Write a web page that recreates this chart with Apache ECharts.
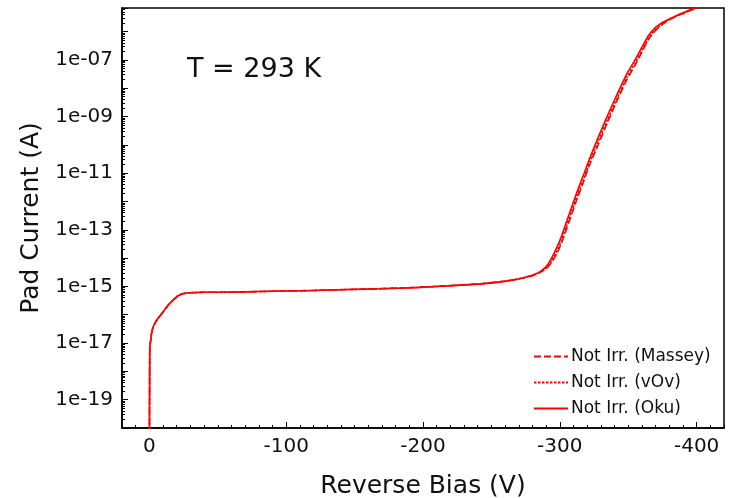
<!DOCTYPE html>
<html>
<head>
<meta charset="utf-8">
<script src="https://cdn.jsdelivr.net/npm/echarts@6/dist/echarts.min.js"></script>
<style>
  html, body { margin: 0; padding: 0; background: #fff; }
  #chart { width: 731px; height: 498px; }
</style>
</head>
<body>
<div id="chart"></div>
<script>
  // reverse bias voltage (V)
  var voltage = [0, -0.3, -1, -2, -4, -6, -10, -14, -17, -21, -25, -30, -40, -60, -80, -100, -120,
    -146, -170, -195, -220, -243, -260, -270, -280, -285, -290, -294, -298, -301, -305, -309,
    -313, -317, -322, -328, -335, -342, -349, -355, -360, -365, -370, -375, -380, -386, -392, -398, -402];

  // pad current (A)
  var okuCurrent = [1e-22, 6.3e-18, 1.26e-17, 2.8e-17, 5.0e-17, 7.1e-17, 1.26e-16, 2.24e-16, 3.16e-16, 4.7e-16,
    5.6e-16, 6.0e-16, 6.2e-16, 6.3e-16, 6.6e-16, 6.9e-16, 7.2e-16, 7.8e-16, 8.3e-16, 9.1e-16, 1.05e-15,
    1.23e-15, 1.51e-15, 1.82e-15, 2.5e-15, 3.2e-15, 5.0e-15, 1.0e-14, 2.5e-14, 5.6e-14, 2.0e-13, 7.1e-13,
    2.5e-12, 7.9e-12, 3.5e-11, 1.8e-10, 1.12e-9, 6.3e-9, 3.2e-8, 1.0e-7, 2.8e-7, 7.4e-7, 1.4e-6, 2.1e-6,
    2.8e-6, 3.8e-6, 5.0e-6, 6.6e-6, 7.6e-6];
  var vovCurrent = [1e-22, 6.3e-18, 1.26e-17, 2.8e-17, 5.0e-17, 7.1e-17, 1.26e-16, 2.24e-16, 3.16e-16, 4.7e-16,
    5.6e-16, 6.0e-16, 6.2e-16, 6.3e-16, 6.6e-16, 6.9e-16, 7.2e-16, 7.8e-16, 8.3e-16, 9.2e-16, 1.06e-15,
    1.25e-15, 1.55e-15, 1.85e-15, 2.5e-15, 3.1e-15, 4.5e-15, 8.0e-15, 1.8e-14, 4.0e-14, 1.4e-13, 5.0e-13,
    1.8e-12, 5.6e-12, 2.6e-11, 1.3e-10, 8.0e-10, 4.6e-9, 2.4e-8, 7.6e-8, 2.2e-7, 6.0e-7, 1.2e-6, 1.9e-6,
    2.7e-6, 3.7e-6, 4.8e-6, 6.4e-6, 7.4e-6];
  var masseyCurrent = [1e-22, 6.3e-18, 1.26e-17, 2.8e-17, 5.0e-17, 7.1e-17, 1.26e-16, 2.24e-16, 3.16e-16, 4.7e-16,
    5.6e-16, 6.0e-16, 6.2e-16, 6.3e-16, 6.6e-16, 6.9e-16, 7.2e-16, 7.8e-16, 8.4e-16, 9.3e-16, 1.07e-15,
    1.26e-15, 1.55e-15, 1.85e-15, 2.4e-15, 3.0e-15, 4.2e-15, 7.0e-15, 1.5e-14, 3.2e-14, 1.1e-13, 4.0e-13,
    1.4e-12, 4.5e-12, 2.1e-11, 1.0e-10, 6.5e-10, 3.8e-9, 2.0e-8, 6.5e-8, 1.9e-7, 5.4e-7, 1.1e-6, 1.8e-6,
    2.6e-6, 3.6e-6, 4.7e-6, 6.3e-6, 7.3e-6];

  var seriesNames = ['Not Irr. (Massey)', 'Not Irr. (vOv)', 'Not Irr. (Oku)'];

  function pairs(ys) {
    return voltage.map(function (v, i) { return [v, ys[i]]; });
  }

  var font = 'DejaVu Sans';
  var chart = echarts.init(document.getElementById('chart'));

  chart.setOption({
    backgroundColor: '#ffffff',
    animation: false,
    grid: {
      left: 122, right: 7, top: 8, bottom: 70,
      outerBoundsMode: 'none',
      containLabel: false,
      show: true, borderColor: '#000', borderWidth: 1.5, backgroundColor: 'transparent'
    },
    graphic: [{
      type: 'text',
      left: 187,
      top: 56,
      style: { text: 'T = 293 K', font: '27px "DejaVu Sans"', fill: '#111' }
    }],
    legend: {
      orient: 'vertical',
      left: 533,
      top: 348,
      padding: 0,
      itemWidth: 34,
      itemHeight: 12,
      itemGap: 9,
      data: seriesNames,
      itemStyle: { opacity: 0 },
      textStyle: { fontFamily: font, fontSize: 17, color: '#111', padding: [0, 0, 0, -2] }
    },
    xAxis: [{
      type: 'value',
      inverse: true,
      min: -420,
      max: 20,
      splitNumber: 5,
      name: 'Reverse Bias (V)',
      nameLocation: 'middle',
      nameGap: 46,
      nameTextStyle: { fontFamily: font, fontSize: 25, color: '#111' },
      axisLine: { show: true, onZero: false, lineStyle: { color: '#000', width: 1.5 } },
      axisTick: { show: true, inside: true, length: 6, lineStyle: { color: '#000' } },
      axisLabel: {
        margin: 9, fontFamily: font, fontSize: 20, color: '#111',
        showMinLabel: false, showMaxLabel: false,
        formatter: function (v) { return v % 100 === 0 ? String(v) : ''; }
      },
      splitLine: { show: false }
    }, {
      type: 'value',
      inverse: true,
      position: 'bottom',
      min: -420,
      max: 20,
      interval: 10,
      axisLine: { show: false, onZero: false },
      axisTick: { show: true, inside: true, length: 3, lineStyle: { color: '#000' } },
      axisLabel: { show: false },
      splitLine: { show: false }
    }],
    yAxis: {
      type: 'log',
      min: 1e-20,
      max: 6.8e-6,
      interval: 1,
      name: 'Pad Current (A)',
      nameLocation: 'middle',
      nameGap: 65,
      nameTextStyle: { fontFamily: font, fontSize: 25, color: '#111' },
      axisLine: { show: true, onZero: false, lineStyle: { color: '#000', width: 1.5 } },
      axisTick: { show: true, inside: true, length: 6, lineStyle: { color: '#000' } },
      minorTick: { show: true, splitNumber: 9, length: 3, lineStyle: { color: '#000' } },
      axisLabel: {
        margin: 9, fontFamily: font, fontSize: 20, color: '#111',
        padding: [4, 0, 0, 0],
        showMaxLabel: false,
        formatter: function (v) {
          var e = Math.round(Math.log10(v));
          if (Math.abs(Math.log10(v) - e) > 1e-6 || e % 2 === 0) return '';
          return '1e-' + String(-e).padStart(2, '0');
        }
      },
      splitLine: { show: false }
    },
    series: [{
      name: seriesNames[0],
      type: 'line',
      symbol: 'none',
      smooth: 0.2,
      data: pairs(masseyCurrent),
      lineStyle: { color: '#ff0000', width: 1.6, type: [7, 3] },
      itemStyle: { color: '#ff0000' }
    }, {
      name: seriesNames[1],
      type: 'line',
      symbol: 'none',
      smooth: 0.2,
      data: pairs(vovCurrent),
      lineStyle: { color: '#ff0000', width: 1.6, type: [2.5, 1.5] },
      itemStyle: { color: '#ff0000' }
    }, {
      name: seriesNames[2],
      type: 'line',
      symbol: 'none',
      smooth: 0.2,
      data: pairs(okuCurrent),
      lineStyle: { color: '#ff0000', width: 1.6 },
      itemStyle: { color: '#ff0000' }
    }]
  });
</script>
</body>
</html>
